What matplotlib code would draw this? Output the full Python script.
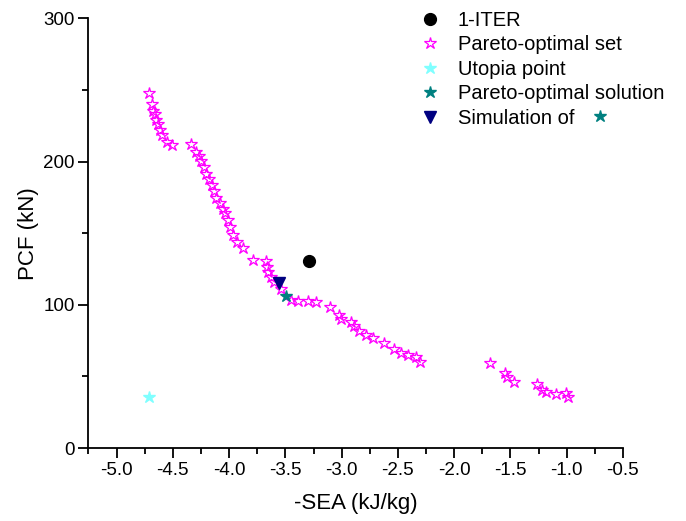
import numpy as np
import matplotlib.pyplot as plt
from matplotlib.lines import Line2D
from matplotlib.ticker import MultipleLocator

plt.rcParams['font.family'] = ['Liberation Sans', 'DejaVu Sans']

# Frente de Pareto (-SEA en kJ/kg, PCF en kN)
pareto_sea = [-4.710, -4.687, -4.675, -4.663, -4.646, -4.634, -4.616, -4.599, -4.551, -4.510,
              -4.336, -4.298, -4.267, -4.247, -4.223, -4.203, -4.179, -4.150, -4.135, -4.117,
              -4.085, -4.055, -4.035, -4.011, -3.988, -3.966, -3.928, -3.878, -3.789, -3.671,
              -3.663, -3.651, -3.627, -3.598, -3.540, -3.450, -3.391, -3.302, -3.229, -3.102,
              -3.022, -3.007, -2.919, -2.889, -2.845, -2.786, -2.717, -2.624, -2.535, -2.476,
              -2.411, -2.343, -2.299,
              -1.679, -1.546, -1.531, -1.472, -1.260, -1.220, -1.182, -1.094, -1.005, -0.985]
pareto_pcf = [247.5, 239.8, 235.3, 233.0, 228.8, 226.5, 221.9, 218.4, 213.7, 211.4,
              211.9, 206.7, 203.7, 200.4, 196.3, 191.0, 187.5, 183.5, 179.5, 174.2,
              170.7, 167.2, 163.8, 159.1, 154.4, 148.6, 143.9, 139.3, 131.2, 130.7,
              126.5, 123.0, 119.5, 116.0, 111.0, 103.3, 102.8, 102.6, 102.1, 98.2,
              92.8, 89.8, 88.1, 85.1, 81.8, 78.8, 76.5, 73.0, 68.9, 66.5,
              64.9, 63.7, 60.2,
              59.7, 52.1, 49.3, 46.3, 44.7, 40.5, 39.3, 37.7, 38.2, 35.4]

iter1 = (-3.293, 130.5)       # 1-ITER
utopia = (-4.708, 35.6)       # punto utopía
solucion = (-3.494, 106.4)    # solución Pareto-óptima
simulacion = (-3.554, 114.9)  # simulación de la solución

fig = plt.figure(figsize=(6.86, 5.21), dpi=100)
ax = fig.add_axes([0.129, 0.140, 0.779, 0.825])

ax.plot(iter1[0], iter1[1], 'o', color='black', ms=8.5, ls='none', label='1-ITER')
ax.plot(pareto_sea, pareto_pcf, '*', ms=9, mfc='none', mec='#FF00FF', mew=0.9,
        ls='none', label='Pareto-optimal set')
ax.plot(utopia[0], utopia[1], '*', color='#80FFFF', ms=9, ls='none', label='Utopia point')
ax.plot(solucion[0], solucion[1], '*', color='#008080', ms=9, ls='none',
        label='Pareto-optimal solution')
ax.plot(simulacion[0], simulacion[1], 'v', color='#000080', ms=8.5, ls='none',
        label='Simulation of')

ax.set_xlim(-5.25, -0.5)
ax.set_ylim(0, 300)
ax.xaxis.set_minor_locator(MultipleLocator(0.25))
ax.yaxis.set_major_locator(MultipleLocator(100))
ax.yaxis.set_minor_locator(MultipleLocator(50))
xt = np.arange(-5.0, -0.49, 0.5)
ax.set_xticks(xt)
ax.set_xticklabels([f'{v:.1f}' for v in xt])

for s in ['top', 'right']:
    ax.spines[s].set_visible(False)
for s in ['left', 'bottom']:
    ax.spines[s].set_linewidth(1.3)
ax.tick_params(which='major', direction='out', length=7, width=1.3, labelsize=13.5, pad=3)
ax.tick_params(which='minor', direction='out', length=4, width=1.3)

ax.set_xlabel('-SEA (kJ/kg)', fontsize=16, labelpad=10)
ax.set_ylabel('PCF (kN)', fontsize=16, labelpad=3)

leg = ax.legend(loc='upper left', bbox_to_anchor=(0.609, 0.979), bbox_transform=fig.transFigure,
                frameon=False, fontsize=14.5, borderpad=0, borderaxespad=0,
                handletextpad=0.79, labelspacing=0.27, handlelength=1.2)

# estrella junto a "Simulation of", a la altura de su texto
fig.canvas.draw()
bb = leg.get_texts()[-1].get_window_extent()
yc = ((bb.y0 + bb.y1) / 2 + 2) / fig.bbox.height
fig.add_artist(Line2D([600 / fig.bbox.width], [yc], marker='*', color='#008080', ms=9,
                      ls='none', transform=fig.transFigure))

fig.savefig('out.png', dpi=100)
